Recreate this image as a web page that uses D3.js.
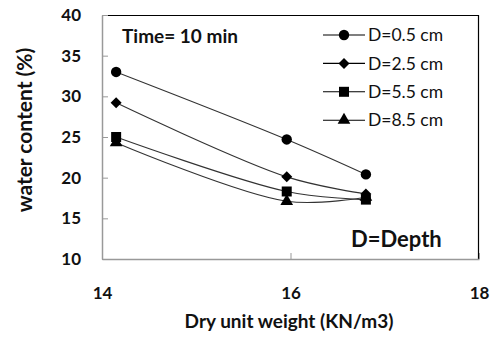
<!DOCTYPE html>
<html>
<head>
<meta charset="utf-8">
<script src="https://cdn.jsdelivr.net/npm/d3@7"></script>
<style>
  body { margin: 0; background: #fff; }
  text { font-family: Lato, "Open Sans", sans-serif; fill: #111; }
</style>
</head>
<body>
<div id="chart"></div>
<script>
const xValues = [14.15, 15.96, 16.8]
const seriesNames = ['D=0.5 cm', 'D=2.5 cm', 'D=5.5 cm', 'D=8.5 cm']
const seriesValues = [
    [33.0, 24.7, 20.4],
    [29.2, 20.1, 18.0],
    [25.0, 18.3, 17.3],
    [24.3, 17.1, 17.6]
]
const markerTypes = ['circle', 'diamond', 'square', 'triangle']
const xTicks = [14, 16, 18]
const yTicks = [10, 15, 20, 25, 30, 35, 40]

const dimensions = {
    width: 495,
    height: 338,
    margin: { top: 15, right: 16, bottom: 79, left: 102 }
}
dimensions.boundedWidth = dimensions.width - dimensions.margin.left - dimensions.margin.right
dimensions.boundedHeight = dimensions.height - dimensions.margin.top - dimensions.margin.bottom

const svg = d3.select('#chart').append('svg')
    .attr('width', dimensions.width)
    .attr('height', dimensions.height)

const bounds = svg.append('g')
    .attr('transform', `translate(${dimensions.margin.left}, ${dimensions.margin.top})`)

const xScale = d3.scaleLinear().domain([14, 18]).range([0, dimensions.boundedWidth])
const yScale = d3.scaleLinear().domain([10, 40]).range([dimensions.boundedHeight, 0])

// frame: black top/right, grey axes
bounds.append('line')
    .attr('x1', 0).attr('x2', dimensions.boundedWidth)
    .attr('y1', 0.5).attr('y2', 0.5)
    .attr('stroke', '#000').attr('stroke-width', 1.2)
bounds.append('line')
    .attr('x1', dimensions.boundedWidth - 0.5).attr('x2', dimensions.boundedWidth - 0.5)
    .attr('y1', 0).attr('y2', dimensions.boundedHeight)
    .attr('stroke', '#000').attr('stroke-width', 1.2)

const yAxis = bounds.append('g')
    .call(d3.axisLeft(yScale).tickValues(yTicks).tickSize(-6).tickSizeOuter(0))
yAxis.select('.domain').attr('stroke', '#999').attr('stroke-width', 1.5)
yAxis.selectAll('.tick line').attr('stroke', '#999')
yAxis.selectAll('.tick text')
    .style('font-size', '17px').style('font-weight', 700)
    .attr('x', -21)

const xAxis = bounds.append('g')
    .attr('transform', `translate(0, ${dimensions.boundedHeight})`)
    .call(d3.axisBottom(xScale).tickValues(xTicks).tickFormat(d3.format('d')).tickSize(-6).tickSizeOuter(0))
xAxis.select('.domain').attr('stroke', '#999').attr('stroke-width', 1.5)
xAxis.selectAll('.tick line').attr('stroke', '#999')
xAxis.selectAll('.tick text')
    .style('font-size', '17px').style('font-weight', 700)
    .attr('y', 28)

// axis titles
svg.append('text')
    .attr('transform', 'translate(32, 130) rotate(-90)')
    .attr('text-anchor', 'middle')
    .style('font-size', '21px').style('font-weight', 700)
    .text('water content (%)')

svg.append('text')
    .attr('x', 289).attr('y', 328)
    .attr('text-anchor', 'middle')
    .style('font-size', '19px').style('font-weight', 700)
    .text('Dry unit weight (KN/m3)')

// series
const lineGenerator = d3.line()
    .x((d, i) => xScale(xValues[i]))
    .y(d => yScale(d))
    .curve(d3.curveCatmullRom.alpha(0.5))

const diamondPath = 'M0,-5.5L5.5,0L0,5.5L-5.5,0Z'
const symbolFor = {
    circle: () => d3.symbol(d3.symbolCircle, 85)(),
    diamond: () => diamondPath,
    square: () => d3.symbol(d3.symbolSquare, 100)(),
    triangle: () => d3.symbol(d3.symbolTriangle, 70)()
}

seriesValues.forEach((values, s) => {
    bounds.append('path')
        .attr('d', lineGenerator(values))
        .attr('fill', 'none')
        .attr('stroke', '#333')
        .attr('stroke-width', 1.1)
})
seriesValues.forEach((values, s) => {
    bounds.selectAll(`.m${s}`)
        .data(values)
        .enter().append('path')
        .attr('transform', (d, i) => `translate(${xScale(xValues[i])}, ${yScale(d)})`)
        .attr('d', symbolFor[markerTypes[s]]())
        .attr('fill', '#000')
})

// legend
const legend = svg.append('g').attr('transform', 'translate(323, 35)')
const rows = legend.selectAll('g')
    .data(seriesNames)
    .enter().append('g')
    .attr('transform', (d, i) => `translate(0, ${i * 28.4})`)
rows.append('line')
    .attr('x1', 0).attr('x2', 42)
    .attr('stroke', '#000').attr('stroke-width', 1.1)
rows.append('path')
    .attr('transform', 'translate(21, 0)')
    .attr('d', (d, i) => symbolFor[markerTypes[i]]())
    .attr('fill', '#000')
rows.append('text')
    .attr('x', 45).attr('dy', '0.35em')
    .style('font-size', '17.5px')
    .text(d => d)

svg.append('text')
    .attr('x', 122).attr('y', 43)
    .style('font-size', '19px').style('font-weight', 700)
    .text('Time= 10 min')

svg.append('text')
    .attr('x', 351).attr('y', 247)
    .style('font-size', '22px').style('font-weight', 700)
    .text('D=Depth')
</script>
</body>
</html>
